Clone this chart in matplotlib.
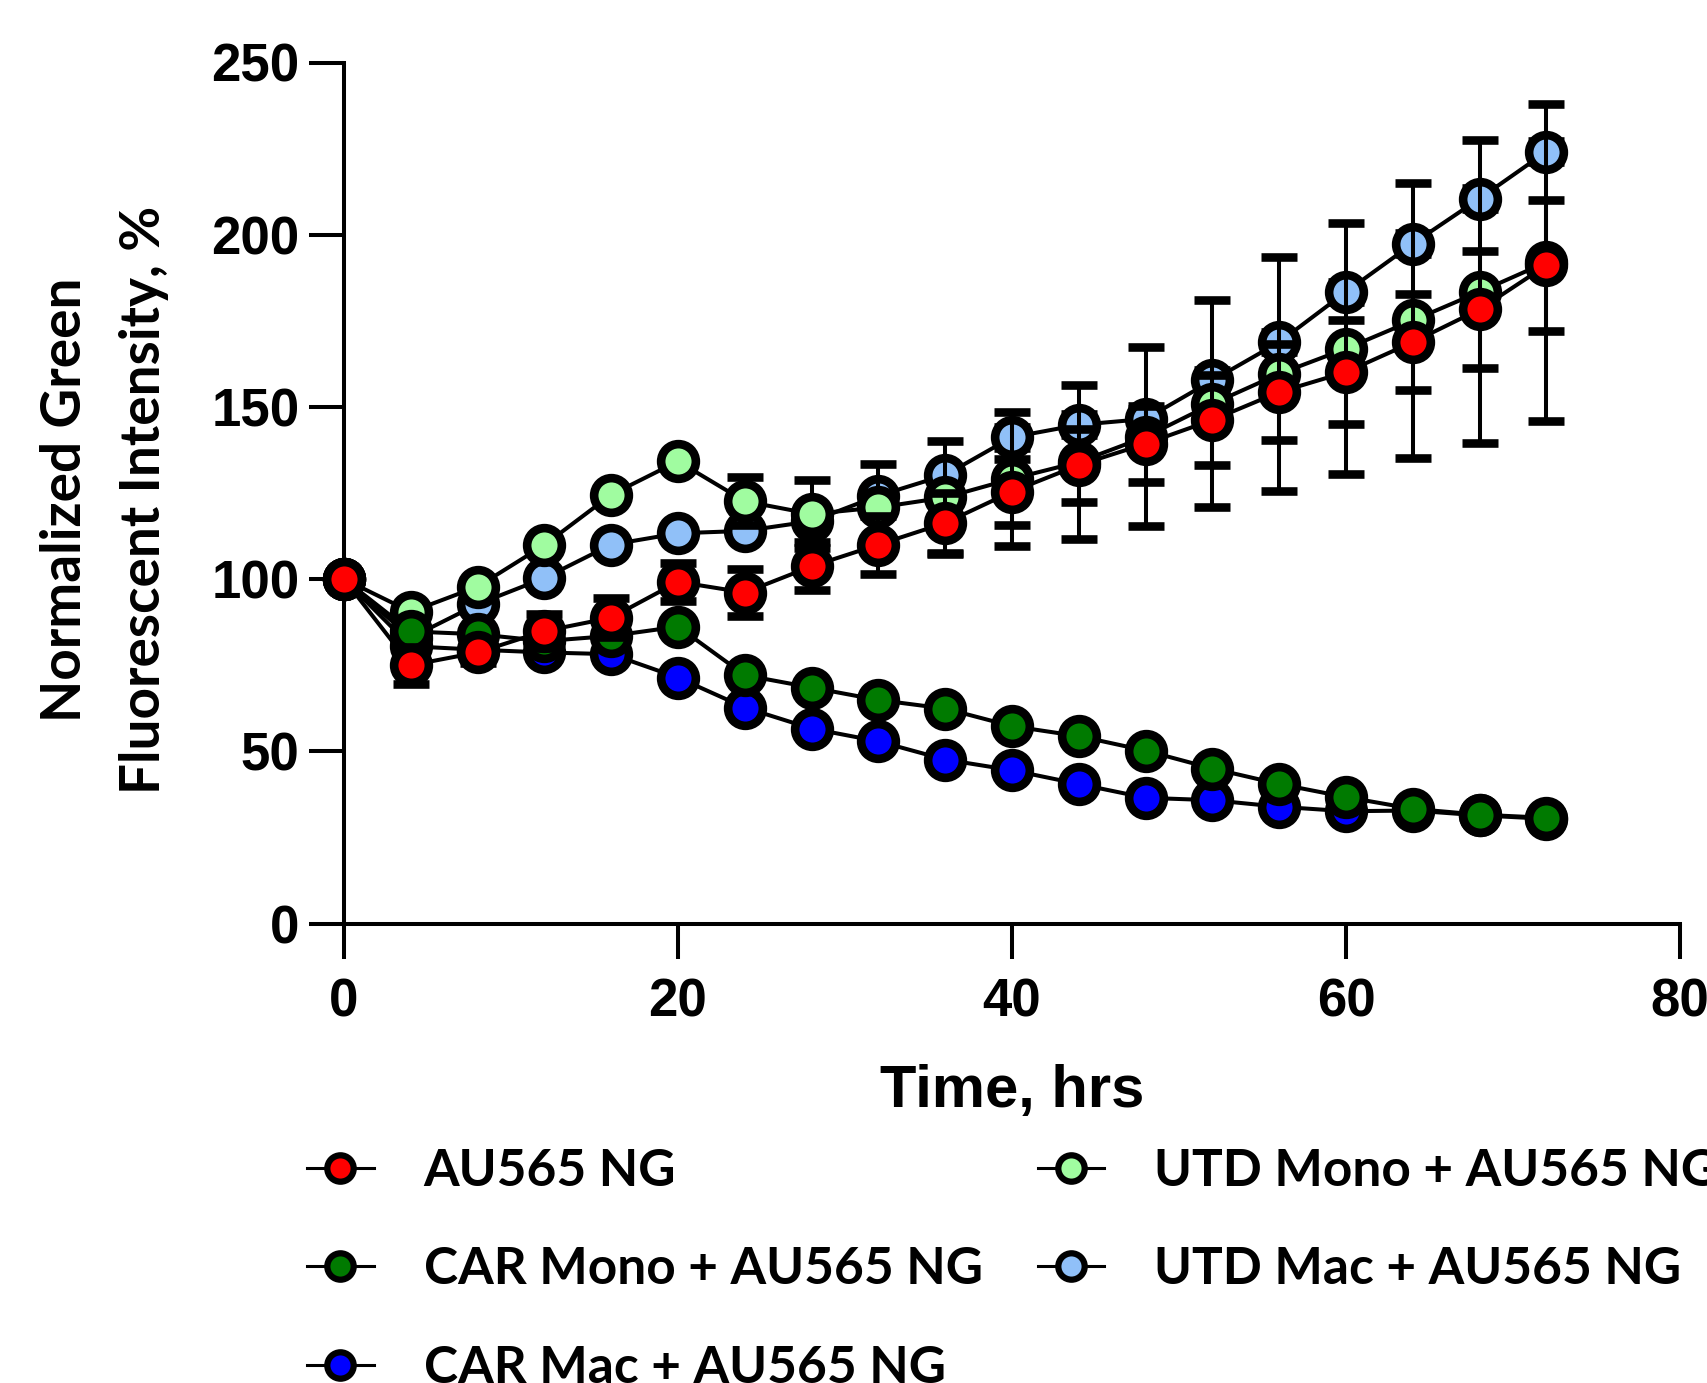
import matplotlib
matplotlib.use("Agg")
import matplotlib.pyplot as plt
from matplotlib.lines import Line2D

# time points (hrs)
time = [0, 4, 8, 12, 16, 20, 24, 28, 32, 36, 40, 44, 48, 52, 56, 60, 64, 68, 72]

# mean values, % of t0
au565 = [100, 75.0, 78.7, 84.9, 88.8, 99.2, 96.1, 103.7, 110.0, 116.3, 125.4, 133.1, 139.3, 146.2, 154.3, 160.1, 168.8, 178.3, 191.1]
car_mono = [100, 84.8, 84.0, 82.0, 83.5, 86.2, 72.1, 68.5, 64.9, 62.4, 57.3, 54.4, 50.2, 45.0, 40.5, 36.7, 33.3, 31.6, 30.7]
car_mac = [100, 80.5, 79.5, 78.7, 78.2, 71.4, 62.7, 56.6, 52.9, 47.6, 44.5, 40.5, 36.5, 35.8, 33.9, 32.6, 32.8, 31.4, 30.4]
utd_mono = [100, 90.5, 97.8, 109.9, 124.5, 134.2, 122.6, 118.9, 120.8, 123.7, 129.1, 134.0, 141.3, 150.9, 159.6, 166.9, 175.1, 183.4, 192.0]
utd_mac = [100, 83.0, 92.7, 100.3, 110.0, 113.3, 114.0, 116.8, 124.2, 130.2, 141.2, 144.8, 146.5, 157.7, 168.8, 183.4, 197.4, 210.5, 224.1]

# error bars (SD)
au565_err = [0, 5.4, 3.0, 5.0, 5.7, 5.5, 6.8, 7.0, 8.4, 8.8, 9.6, 10.6, 11.0, 13.0, 14.0, 15.0, 14.0, 17.0, 19.0]
car_mono_err = [0, 2, 2, 2, 2, 2, 2, 2, 2, 2, 2, 2, 2, 2, 2, 2, 2, 2, 2]
car_mac_err = [0, 2, 2, 2, 2, 2, 2, 2, 2, 2, 2, 2, 2, 2, 2, 2, 2, 2, 2]
utd_mono_err = [0, 2, 2, 2, 2, 2, 7.0, 10.0, 12.6, 16.5, 19.4, 22.5, 26.0, 30.0, 34.0, 36.5, 40.0, 44.0, 46.0]
utd_mac_err = [0, 2, 2, 2, 2, 2, 2, 2, 2, 2, 3, 3, 3, 3, 3, 3, 3, 3, 3]

labels = ["AU565 NG", "CAR Mono + AU565 NG", "CAR Mac + AU565 NG",
          "UTD Mono + AU565 NG", "UTD Mac + AU565 NG"]
colors = ["#ff0000", "#007a00", "#0000ff", "#a0fca0", "#90c0f8"]
series = [au565, car_mono, car_mac, utd_mono, utd_mac]
errors = [au565_err, car_mono_err, car_mac_err, utd_mono_err, utd_mac_err]

W, H = 1708, 1383
fig = plt.figure(figsize=(W / 100, H / 100), dpi=100)
ax = fig.add_axes([344 / W, 1 - 923.5 / H, (1680 - 344) / W, (923.5 - 62.5) / H])

lw = 2.9
# draw last legend entry first so red sits on top
for k, i in enumerate([4, 3, 2, 1, 0]):
    h = ax.errorbar(time, series[i], yerr=errors[i], color="black", lw=lw,
                    marker="o", markersize=25, markerfacecolor=colors[i],
                    markeredgecolor="black", markeredgewidth=6.2,
                    ecolor="black", elinewidth=lw, capsize=13, capthick=lw,
                    zorder=3 + k, clip_on=False)
    for art in h.lines[1] + h.lines[2]:
        art.set_clip_on(False)

ax.set_xlim(0, 80)
ax.set_ylim(0, 250)
ax.set_xticks([0, 20, 40, 60, 80])
ax.set_yticks([0, 50, 100, 150, 200, 250])
for s in ["top", "right"]:
    ax.spines[s].set_visible(False)
for s in ["left", "bottom"]:
    ax.spines[s].set_linewidth(lw)
ax.tick_params(direction="out", length=25, width=lw, labelsize=38)
ax.tick_params(axis="y", pad=7)
ax.tick_params(axis="x", pad=14)
for t in ax.get_xticklabels() + ax.get_yticklabels():
    t.set_fontfamily("Liberation Sans")
    t.set_fontweight("bold")

fig.text(ax.get_position().x0 + ax.get_position().width / 2, 1 - 1107 / H, "Time, hrs",
         ha="center", va="baseline", fontsize=43, fontweight="bold",
         family="Liberation Sans")

fig.text(81 / W, 1 - 500 / H, "Normalized Green", rotation=90, rotation_mode="anchor",
         ha="center", va="baseline", fontsize=39.5, fontweight="bold", family="Lato")
fig.text(160 / W, 1 - 500 / H, "Fluorescent Intensity, %", rotation=90,
         rotation_mode="anchor", ha="center", va="baseline", fontsize=39.5,
         fontweight="bold", family="Lato")

handles = [Line2D([], [], color="black", lw=2.2, marker="o", markersize=19,
                  markerfacecolor=c, markeredgecolor="black", markeredgewidth=4.5)
           for c in colors]
leg = fig.legend(handles=handles, labels=labels, ncol=2, loc="upper left",
                 bbox_to_anchor=(307 / W, 1 - 1148 / H), frameon=False,
                 prop={"family": "Lato", "weight": "bold", "size": 37},
                 handlelength=1.3, handletextpad=0.97,
                 columnspacing=1.07, labelspacing=1.0, borderpad=0,
                 borderaxespad=0)

fig.savefig("out.png", dpi=100)
